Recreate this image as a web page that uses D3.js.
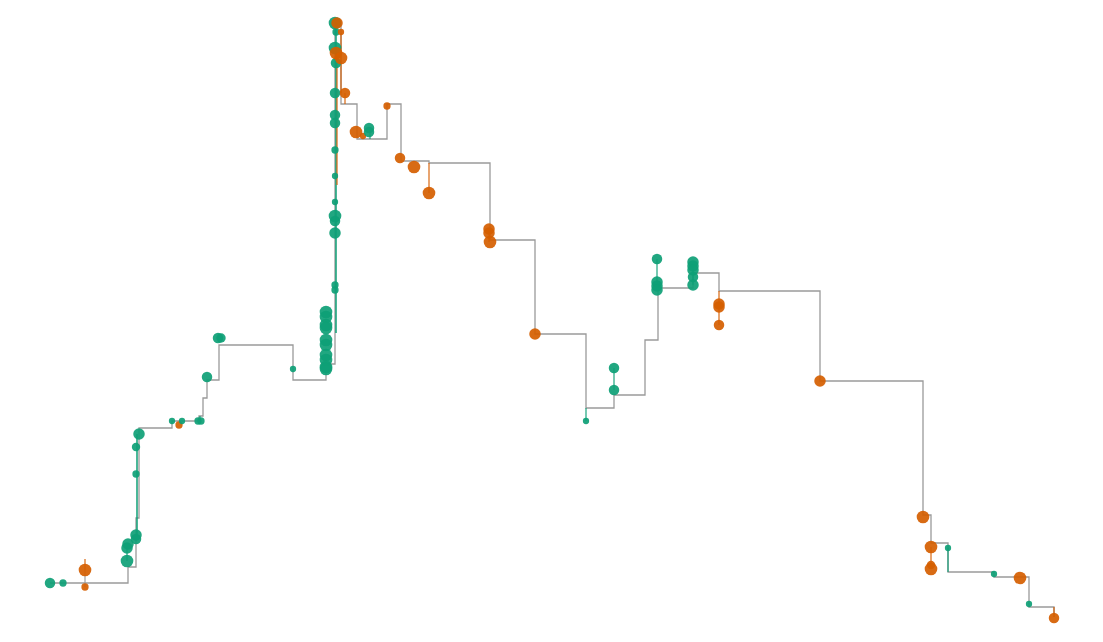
<!DOCTYPE html>
<html>
<head>
<meta charset="utf-8">
<script src="https://cdn.jsdelivr.net/npm/d3@7"></script>
<style>
  html, body { margin: 0; padding: 0; background: #fff; }
</style>
</head>
<body>
<div class="graph"><svg></svg></div>
<script>
// running level (step line corners)
const stepX = [0, 78, 86, 89, 122, 149, 153, 157, 169, 243, 276, 285, 291, 307, 337, 351, 379, 440, 485, 536, 564, 595, 608, 643, 669, 770, 873, 881, 898, 944, 979, 1004]
const stepY = [37, 53, 102, 192, 199, 204, 222, 240, 275, 240, 256, 595, 516, 481, 516, 459, 457, 380, 286, 212, 225, 280, 332, 347, 329, 239, 105, 77, 48, 43, 13, 3]

// short stems between events at the same time
const stemX = [35, 35, 77, 87, 150, 286, 287, 291, 295, 320, 379, 439, 536, 564, 607, 643, 669, 881, 898, 1004]
const stemFrom = [61, 50, 73, 83, 204, 287, 570, 587, 527, 490, 457, 391, 212, 252, 361, 358, 329, 73, 72, 13]
const stemTo = [50, 33, 59, 186, 199, 598, 435, 527, 516, 481, 427, 378, 199, 230, 335, 335, 295, 51, 48, 3]
const stemKind = ['loss', 'flat', 'gain', 'gain', 'gain', 'gain', 'loss', 'loss', 'loss', 'gain', 'loss', 'loss', 'gain', 'gain', 'gain', 'gain', 'loss', 'loss', 'gain', 'loss']

// events
const dotX = [0, 13, 35, 35, 77, 77, 78, 86, 86, 86, 86, 89, 122, 129, 132, 148, 151, 157, 168, 171, 243,
  276, 276, 276, 276, 276, 276, 276, 276, 276, 276,
  285, 285, 285, 285, 285, 285, 285, 285,
  285, 286, 285, 286, 285, 285, 285,
  287, 291, 286, 291, 295,
  306, 313, 319, 319, 337, 350, 364, 379, 439, 439, 440, 485,
  536, 564, 564, 607, 607, 607, 607, 643, 643, 643, 643, 643, 669, 669, 669,
  770, 873, 881, 881, 881, 898, 944, 970, 979, 1004]
const dotY = [37, 37, 50, 33, 59, 72, 76, 81, 85, 146, 173, 186, 199, 195, 199, 199, 199, 243, 282, 282, 251,
  308, 303, 295, 292, 280, 275, 265, 260, 253, 251,
  470, 444, 418, 404, 399, 387, 335, 330,
  597, 588, 572, 557, 527, 505, 497,
  597, 588, 567, 562, 527,
  488, 484, 492, 488, 514, 462, 453, 427, 391, 387, 378, 286,
  199, 252, 230, 361, 338, 334, 330, 358, 354, 350, 343, 335, 316, 313, 295,
  239, 103, 73, 55, 51, 72, 46, 42, 16, 2]
const dotSize = [25, 12, 36, 12, 36, 30, 30, 25, 30, 12, 16, 30, 9, 12, 9, 12, 12, 25, 25, 20, 9,
  36, 36, 36, 36, 36, 36, 36, 36, 36, 36,
  12, 9, 9, 36, 25, 30, 12, 12,
  36, 12, 36, 25, 25, 25, 25,
  30, 9, 36, 36, 25,
  36, 9, 25, 25, 12, 25, 36, 36, 30, 30, 36, 30,
  9, 25, 25, 25, 30, 30, 30, 30, 30, 30, 25, 30, 30, 30, 25,
  30, 36, 36, 16, 36, 9, 9, 36, 9, 25]
const dotKind = ['gain', 'gain', 'loss', 'loss', 'gain', 'gain', 'gain', 'gain', 'gain', 'gain', 'gain', 'gain', 'gain', 'loss', 'gain', 'gain', 'gain', 'gain', 'gain', 'gain', 'gain',
  'gain', 'gain', 'gain', 'gain', 'gain', 'gain', 'gain', 'gain', 'gain', 'gain',
  'gain', 'gain', 'gain', 'gain', 'gain', 'gain', 'gain', 'gain',
  'gain', 'gain', 'gain', 'gain', 'gain', 'gain', 'gain',
  'loss', 'loss', 'loss', 'loss', 'loss',
  'loss', 'loss', 'gain', 'gain', 'loss', 'loss', 'loss', 'loss', 'loss', 'loss', 'loss', 'loss',
  'gain', 'gain', 'gain', 'gain', 'gain', 'gain', 'gain', 'gain', 'gain', 'gain', 'gain', 'gain', 'loss', 'loss', 'loss',
  'loss', 'loss', 'loss', 'loss', 'loss', 'gain', 'gain', 'loss', 'gain', 'loss']

const width = 1103
const height = 642
const colors = { gain: '#0e9f76', loss: '#d55e00', flat: '#999999' }

const svg = d3.select('.graph').select('svg')
  .attr('width', width)
  .attr('height', height)
  .style('display', 'block')

const x = d3.scaleLinear().domain([0, 1004]).range([50, 1054])
const y = d3.scaleLinear().domain([0, 600]).range([620, 20])
const r = d3.scaleSqrt().domain([0, 36]).range([0, 6.3])

const g = svg.append('g')

const steps = stepX.map((d, i) => [d, stepY[i]])
g.append('path')
  .datum(steps)
  .attr('fill', 'none')
  .attr('stroke', '#9a9a9a')
  .attr('stroke-width', 1.3)
  .attr('d', d3.line()
    .x(d => x(d[0]))
    .y(d => y(d[1]))
    .curve(d3.curveStepAfter))

const stems = stemX.map((d, i) => ({ x: d, y0: stemFrom[i], y1: stemTo[i], kind: stemKind[i] }))
g.selectAll('.stem')
  .data(stems)
  .enter()
  .append('line')
  .attr('class', 'stem')
  .attr('x1', d => x(d.x))
  .attr('x2', d => x(d.x))
  .attr('y1', d => y(d.y0))
  .attr('y2', d => y(d.y1))
  .attr('stroke', d => colors[d.kind])
  .attr('stroke-opacity', d => (d.y1 - d.y0 > 100 ? 1 : 0.75))
  .attr('stroke-width', 1.5)

const dots = dotX.map((d, i) => ({ x: d, y: dotY[i], size: dotSize[i], kind: dotKind[i] }))
g.selectAll('.dot')
  .data(dots)
  .enter()
  .append('circle')
  .attr('class', 'dot')
  .attr('cx', d => x(d.x))
  .attr('cy', d => y(d.y))
  .attr('r', d => r(d.size))
  .attr('fill', d => colors[d.kind])
  .attr('fill-opacity', 0.92)
</script>
</body>
</html>
